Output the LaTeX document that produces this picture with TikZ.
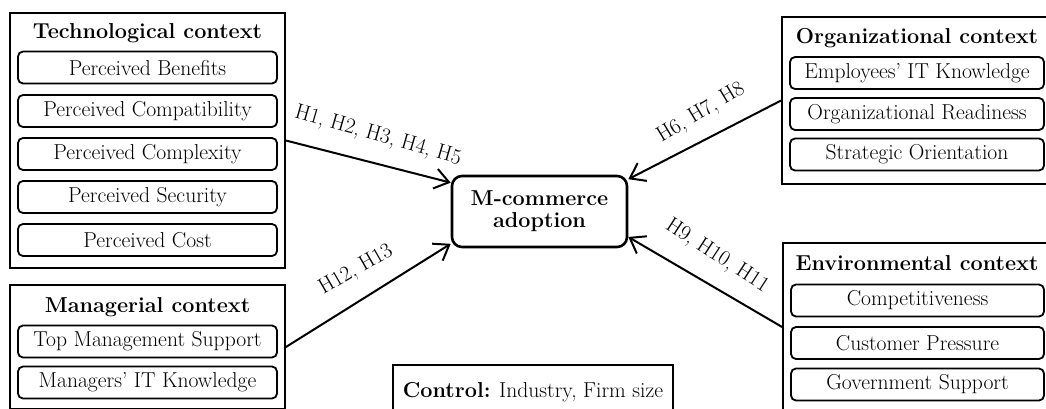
\documentclass[tikz,border=0pt]{standalone}
\usepackage{fontspec}
\usetikzlibrary{arrows.meta}
\newcommand\osn[1]{\oldstylenums{#1}}
\newcommand\fsz{\fontsize{21.6}{24}\selectfont}
\begin{document}
\begin{tikzpicture}[x=1pt,y=-1pt,
  outerbox/.style={draw, line width=1.8pt, inner sep=0pt},
  itembox/.style={draw, line width=1.8pt, rounded corners=5pt, minimum width=259pt, minimum height=32pt, inner sep=0pt, font=\fsz},
  ctxtitle/.style={font=\fsz\bfseries, inner sep=0pt},
  hyp/.style={font=\fsz, inner sep=0pt},
  arr/.style={line width=2pt, -{Straight Barb[length=14pt,width=20pt]}}]
\clip (0,0) rectangle (1046,408);
% Technological
\node[outerbox, minimum width=275pt, minimum height=255pt] (tech) at (147.5,140.5) {};
\node[ctxtitle] (techt) at (147.5,33) {Technological context};
\node[itembox] (pb) at (147.5,67.5) {Perceived Benefits};
\node[itembox] (pcomp) at (147.5,111) {Perceived Compatibility};
\node[itembox] (pcplx) at (147.5,154) {Perceived Complexity};
\node[itembox] (psec) at (147.5,197) {Perceived Security};
\node[itembox] (pcost) at (147.5,240) {Perceived Cost};
% Managerial
\node[outerbox, minimum width=275pt, minimum height=124pt] (mgr) at (147.5,347) {};
\node[ctxtitle] (mgrt) at (147.5,307) {Managerial context};
\node[itembox] (tms) at (147.5,341.5) {Top Management Support};
\node[itembox] (mitk) at (147.5,382.5) {Managers’ IT Knowledge};
% Organizational
\node[outerbox, minimum width=270pt, minimum height=167pt] (org) at (917,100.5) {};
\node[ctxtitle] (orgt) at (917,38) {Organizational context};
\node[itembox, minimum width=254pt] (eitk) at (917,73) {Employees’ IT Knowledge};
\node[itembox, minimum width=254pt] (ordy) at (917,114) {Organizational Readiness};
\node[itembox, minimum width=254pt] (so) at (917,154.5) {Strategic Orientation};
% Environmental
\node[outerbox, minimum width=268pt, minimum height=168pt] (env) at (917,327) {};
\node[ctxtitle] (envt) at (917,263) {Environmental context};
\node[itembox, minimum width=253pt] (comp) at (917.5,300.5) {Competitiveness};
\node[itembox, minimum width=253pt] (cp) at (917.5,343) {Customer Pressure};
\node[itembox, minimum width=253pt] (gs) at (917.5,384.5) {Government Support};
% Centre
\node[draw, line width=2.6pt, rounded corners=10pt, minimum width=175pt, minimum height=71pt, align=center, inner sep=0pt, font=\fontsize{21.6}{22}\selectfont\bfseries] (cen) at (539.5,211.5) {M-commerce\\adoption};
% Control
\node[outerbox, minimum width=280pt, minimum height=54pt, font=\fsz] (ctrl) at (533,392) {\textbf{Control:} Industry, Firm size};
% Connectors
\draw[arr] (tech.east) -- (cen.162);
\draw[arr] (mgr.east) -- (cen.200);
\draw[arr] (org.west) -- (cen.20);
\draw[arr] (env.west) -- (cen.-16);
% Labels
\node[hyp, rotate=-16] (l1) at (378,136) {H\osn{1}, H\osn{2}, H\osn{3}, H\osn{4}, H\osn{5}};
\node[hyp, rotate=30] (l2) at (356,270) {H\osn{12}, H\osn{13}};
\node[hyp, rotate=31] (l3) at (701,113) {H\osn{6}, H\osn{7}, H\osn{8}};
\node[hyp, rotate=-33] (l4) at (717,256) {H\osn{9}, H\osn{10}, H\osn{11}};
\end{tikzpicture}
\end{document}
